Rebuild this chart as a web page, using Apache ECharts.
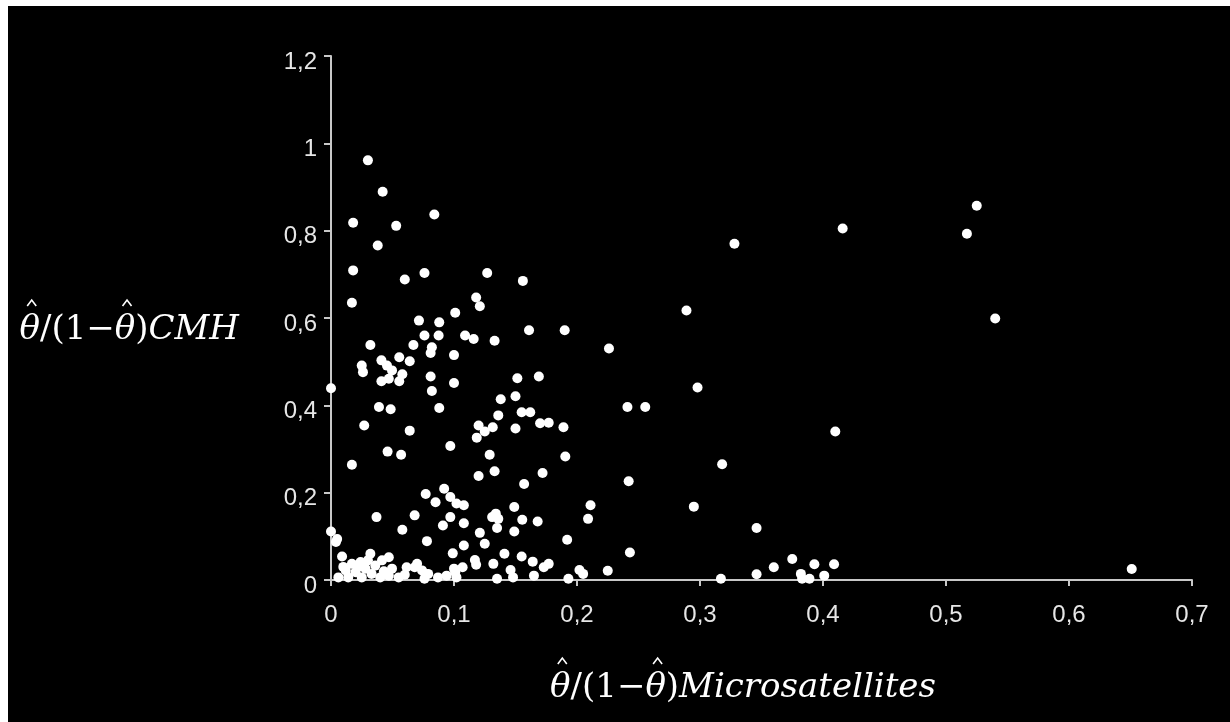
<!DOCTYPE html>
<html>
<head>
<meta charset="utf-8">
<script src="https://cdn.jsdelivr.net/npm/echarts@6/dist/echarts.min.js"></script>
<style>
  html, body { margin: 0; padding: 0; background: #ffffff; width: 1230px; height: 722px; overflow: hidden; }
  #chart { position: absolute; left: 8px; top: 6px; width: 1222px; height: 716px; background: #000000; }
</style>
</head>
<body>
<div id="chart"></div>
<script>
// Data
const xValues = [
  0.030, 0.042, 0.018, 0.053, 0.084, 0.038, 0.018, 0.060, 0.076, 0.127,
  0.156, 0.017, 0.118, 0.121, 0.101, 0.0715, 0.088, 0.032, 0.076, 0.0875,
  0.109, 0.116, 0.133, 0.161, 0.190, 0.067, 0.082, 0.081, 0.100, 0.0555,
  0.064, 0.041, 0.025, 0.026, 0.0455, 0.0496, 0.058, 0.0555, 0.041, 0.047,
  0.081, 0.100, 0.000, 0.082, 0.1515, 0.169, 0.138, 0.150, 0.039, 0.0485,
  0.088, 0.155, 0.162, 0.136, 0.027, 0.120, 0.125, 0.1315, 0.170, 0.177,
  0.150, 0.189, 0.064, 0.1185, 0.097, 0.046, 0.057, 0.129, 0.1905, 0.017,
  0.133, 0.172, 0.120, 0.157, 0.092, 0.097, 0.077, 0.085, 0.102, 0.108,
  0.211, 0.209, 0.149, 0.134, 0.136, 0.131, 0.037, 0.068, 0.097, 0.1555,
  0.168, 0.108, 0.091, 0.058, 0.135, 0.149, 0.121, 0.000, 0.005, 0.004,
  0.078, 0.192, 0.125, 0.108, 0.099, 0.141, 0.009, 0.155, 0.117, 0.164,
  0.132, 0.177, 0.173, 0.202, 0.205, 0.146, 0.148, 0.135, 0.165, 0.193,
  0.107, 0.100, 0.102, 0.087, 0.077, 0.076, 0.070, 0.068, 0.0615, 0.032,
  0.047, 0.0415, 0.024, 0.017, 0.012, 0.006, 0.014, 0.020, 0.028, 0.033,
  0.036, 0.025, 0.040, 0.0496, 0.047, 0.055, 0.074, 0.079, 0.094, 0.101,
  0.118, 0.010, 0.022, 0.030, 0.043, 0.060, 0.289, 0.226, 0.298, 0.241,
  0.2555, 0.410, 0.318, 0.242, 0.295, 0.346, 0.243, 0.375, 0.360, 0.393,
  0.409, 0.225, 0.346, 0.317, 0.382, 0.383, 0.389, 0.401, 0.525, 0.517,
  0.540, 0.651, 0.328, 0.416
];
const yValues = [
  0.961, 0.889, 0.818, 0.811, 0.837, 0.766, 0.709, 0.688, 0.703, 0.703,
  0.685, 0.635, 0.647, 0.627, 0.612, 0.594, 0.590, 0.538, 0.560, 0.560,
  0.560, 0.552, 0.548, 0.572, 0.572, 0.538, 0.533, 0.520, 0.515, 0.510,
  0.501, 0.503, 0.491, 0.476, 0.491, 0.480, 0.471, 0.455, 0.455, 0.461,
  0.466, 0.451, 0.439, 0.433, 0.462, 0.466, 0.414, 0.421, 0.396, 0.391,
  0.394, 0.384, 0.384, 0.377, 0.354, 0.354, 0.340, 0.350, 0.359, 0.360,
  0.347, 0.350, 0.342, 0.326, 0.307, 0.294, 0.287, 0.287, 0.283, 0.264,
  0.249, 0.245, 0.238, 0.220, 0.209, 0.190, 0.197, 0.178, 0.175, 0.171,
  0.171, 0.140, 0.167, 0.152, 0.140, 0.144, 0.144, 0.148, 0.144, 0.138,
  0.134, 0.130, 0.125, 0.115, 0.119, 0.111, 0.108, 0.111, 0.094, 0.087,
  0.089, 0.092, 0.083, 0.079, 0.061, 0.060, 0.054, 0.054, 0.046, 0.042,
  0.037, 0.037, 0.029, 0.023, 0.014, 0.023, 0.006, 0.003, 0.010, 0.003,
  0.029, 0.026, 0.006, 0.006, 0.014, 0.003, 0.037, 0.029, 0.029, 0.060,
  0.052, 0.045, 0.041, 0.037, 0.022, 0.006, 0.006, 0.018, 0.026, 0.014,
  0.033, 0.006, 0.006, 0.026, 0.010, 0.006, 0.022, 0.014, 0.010, 0.018,
  0.035, 0.030, 0.030, 0.045, 0.020, 0.012, 0.617, 0.530, 0.441, 0.396,
  0.396, 0.340, 0.265, 0.226, 0.168, 0.119, 0.063, 0.048, 0.029, 0.036,
  0.036, 0.021, 0.013, 0.003, 0.014, 0.003, 0.003, 0.010, 0.857, 0.793,
  0.599, 0.025, 0.770, 0.805
];
const xTicks = { min: 0, max: 0.7, step: 0.1 };
const yTicks = { min: 0, max: 1.2, step: 0.2 };
// Axis titles: θ̂/(1−θ̂)Microsatellites and θ̂/(1−θ̂)CMH (hat marks drawn over each θ)
const xTitleParts = [['θ', true, true], ['/(1\u2212', false, false], ['θ', true, true], [')', false, false], ['Microsatellites', true, false]];
const yTitleParts = [['θ', true, true], ['/(1\u2212', false, false], ['θ', true, true], [')', false, false], ['CMH', true, false]];

const points = xValues.map((x, i) => [x, yValues[i]]);
const fmt = v => {
  const r = Math.round(v * 10) / 10;
  return String(r).replace('.', ',');
};
const labelStyle = { color: '#e6e6e6', fontFamily: 'Liberation Sans', fontSize: 24 };

const TITLE_SIZE = 34;
const fontOf = it => (it ? 'italic ' : '') + TITLE_SIZE + 'px "DejaVu Serif"';
const measureCtx = document.createElement('canvas').getContext('2d');
function buildTitle(parts, anchorX, anchorMode, thetaCenterY) {
  const widths = parts.map(p => { measureCtx.font = fontOf(p[1]); return measureCtx.measureText(p[0]).width; });
  const total = widths.reduce((a, b) => a + b, 0);
  let x = anchorMode === 'right' ? anchorX - total : anchorX - total / 2;
  const children = [];
  parts.forEach((p, k) => {
    children.push({
      type: 'text', x: x, y: thetaCenterY,
      style: { text: p[0], font: fontOf(p[1]), fill: '#ffffff', textAlign: 'left', textVerticalAlign: 'middle', verticalAlign: 'middle' }
    });
    if (p[2]) {
      const cx = x + widths[k] / 2 + 2;
      const apex = thetaCenterY - 30;
      children.push({
        type: 'polyline',
        shape: { points: [[cx - 4.5, apex + 6], [cx, apex], [cx + 4.5, apex + 6]] },
        style: { stroke: '#ffffff', lineWidth: 1.6, fill: null }
      });
    }
    x += widths[k];
  });
  return { type: 'group', children: children, silent: true };
}

const chart = echarts.init(document.getElementById('chart'), null, { renderer: 'canvas' });
chart.setOption({
  backgroundColor: '#000000',
  animation: false,
  grid: { left: 323, right: 38, top: 50, bottom: 142, containLabel: false },
  xAxis: {
    type: 'value',
    min: xTicks.min, max: xTicks.max, interval: xTicks.step,
    splitLine: { show: false },
    axisLine: { show: true, onZero: false, lineStyle: { color: '#c8c8c8', width: 2 } },
    axisTick: { show: true, inside: false, length: 6, lineStyle: { color: '#c8c8c8', width: 2 } },
    axisLabel: Object.assign({ margin: 23, formatter: fmt }, labelStyle)
  },
  yAxis: {
    type: 'value',
    min: yTicks.min, max: yTicks.max, interval: yTicks.step,
    splitLine: { show: false },
    axisLine: { show: true, onZero: false, lineStyle: { color: '#c8c8c8', width: 2 } },
    axisTick: { show: true, inside: false, length: 7, lineStyle: { color: '#c8c8c8', width: 2 } },
    axisLabel: {
      margin: 14,
      formatter: v => '{a|' + fmt(v) + '}',
      rich: { a: Object.assign({ padding: [12, 0, 0, 0] }, labelStyle) }
    }
  },
  graphic: [
    buildTitle(yTitleParts, 231, 'right', 324),
    buildTitle(xTitleParts, 735, 'center', 682)
  ],
  series: [{
    type: 'scatter',
    data: points,
    symbol: 'circle',
    symbolSize: 10,
    itemStyle: { color: '#ffffff', opacity: 1 },
    emphasis: { disabled: true }
  }]
});
</script>
</body>
</html>
